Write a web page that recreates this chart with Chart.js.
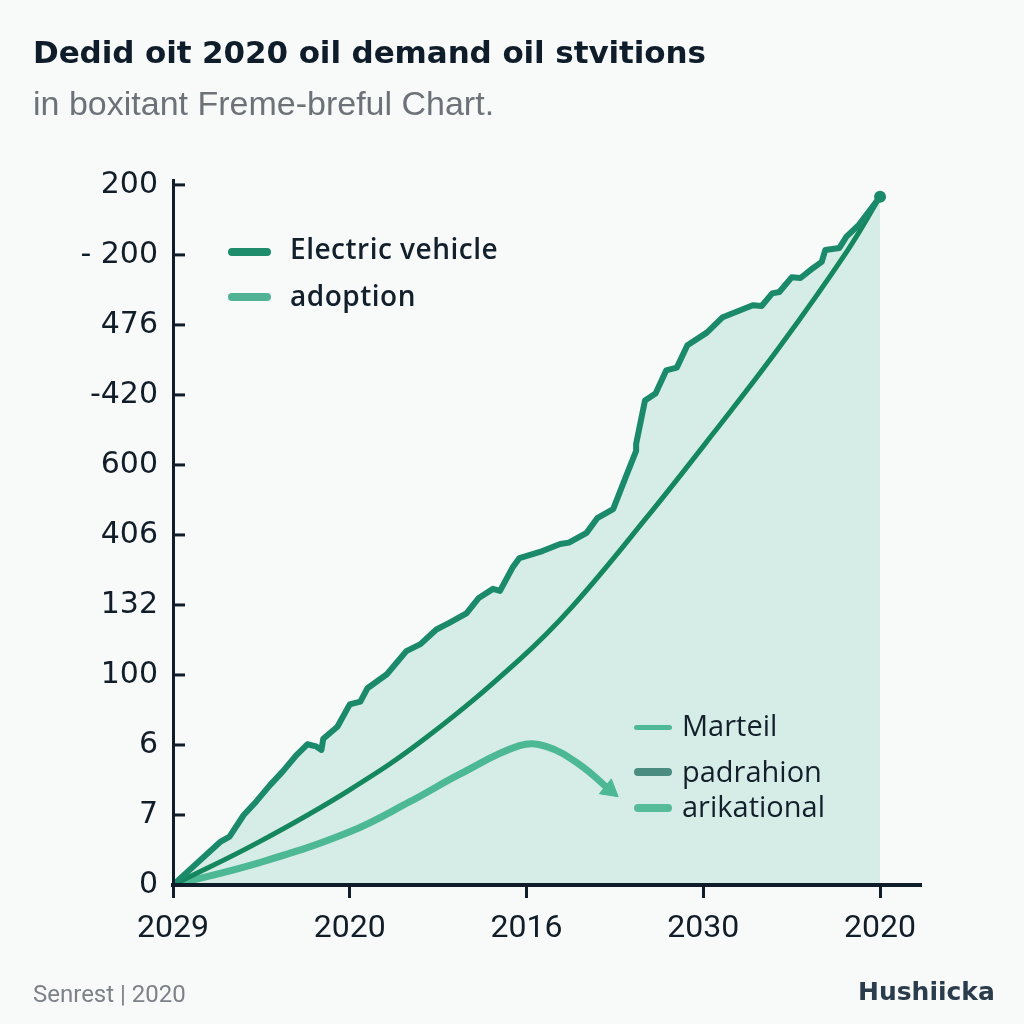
<!DOCTYPE html>
<html>
<head>
<meta charset="utf-8">
<script src="https://cdn.jsdelivr.net/npm/chart.js@4.4.1/dist/chart.umd.min.js"></script>
<style>
  html, body { margin: 0; padding: 0; background: #f8faf9; }
  #wrap { position: relative; width: 1024px; height: 1024px; overflow: hidden; background: #f8faf9; }
  #c { position: absolute; left: 0; top: 0; }
  .t { position: absolute; white-space: nowrap; }
  #title { left: 33px; top: 34px; font: 700 31px "DejaVu Sans", sans-serif; color: #0f1d2b; letter-spacing: -0.1px; }
  #sub { left: 33px; top: 84px; font: 400 34px "Liberation Sans", Arial, sans-serif; color: #6c7278; }
  #foot1 { left: 33px; top: 980px; font: 400 24px Roboto, sans-serif; color: #7d8288; }
  #foot2 { left: 858px; top: 977px; font: 700 25px "DejaVu Sans", sans-serif; color: #2b3d4d; }
  .lg { position: absolute; height: 8px; border-radius: 4px; }
  .lt { position: absolute; white-space: nowrap; color: #13202c; }
  .lt1 { font: 600 28px "Open Sans", sans-serif; letter-spacing: 0.5px; }
  .lt2 { font: 400 29px "Open Sans", sans-serif; }
</style>
</head>
<body>
<div id="wrap">
  <canvas id="c" width="1024" height="1024"></canvas>
  <div class="t" id="title">Dedid oit 2020 oil demand oil stvitions</div>
  <div class="t" id="sub">in boxitant Freme-breful Chart.</div>

  <div class="lg" style="left:228px;top:248px;width:43px;background:#1f8c6c"></div>
  <div class="lt lt1" style="left:290px;top:229px">Electric vehicle</div>
  <div class="lg" style="left:228px;top:293px;width:43px;background:#52b394"></div>
  <div class="lt lt1" style="left:290px;top:276px">adoption</div>

  <div class="lg" style="left:634px;top:725px;width:38px;height:5px;background:#4fb896"></div>
  <div class="lt lt2" style="left:682px;top:705px">Marteil</div>
  <div class="lg" style="left:634px;top:768px;width:38px;background:#4a8c80"></div>
  <div class="lt lt2" style="left:682px;top:751px">padrahion</div>
  <div class="lg" style="left:634px;top:804px;width:38px;background:#55bb99"></div>
  <div class="lt lt2" style="left:682px;top:786px">arikational</div>

  <div class="t" id="foot1">Senrest | 2020</div>
  <div class="t" id="foot2">Hushiicka</div>
</div>
<script>
// ---- data ----
const xLabels = ['2029', '2020', '2016', '2030', '2020'];
const yLabels = ['0', '7', '6', '100', '132', '406', '600', '-420', '476', '- 200', '200'];

const evX = [0.00, 0.27, 0.32, 0.40, 0.47, 0.55, 0.62, 0.70, 0.76, 0.81, 0.84, 0.85, 0.93, 1.00, 1.06, 1.10, 1.21, 1.32, 1.40, 1.49, 1.56, 1.66, 1.73, 1.81, 1.85, 1.92, 1.96, 2.09, 2.19, 2.24, 2.34, 2.40, 2.49, 2.56, 2.62, 2.62, 2.67, 2.73, 2.79, 2.85, 2.91, 3.02, 3.11, 3.28, 3.33, 3.39, 3.43, 3.50, 3.55, 3.62, 3.67, 3.69, 3.77, 3.81, 3.88, 4.00];
const evY = [0.00, 0.62, 0.69, 1.00, 1.19, 1.43, 1.62, 1.86, 2.01, 1.98, 1.93, 2.09, 2.26, 2.58, 2.62, 2.81, 3.01, 3.34, 3.44, 3.65, 3.74, 3.88, 4.10, 4.23, 4.20, 4.53, 4.67, 4.77, 4.87, 4.89, 5.03, 5.24, 5.37, 5.82, 6.20, 6.30, 6.92, 7.02, 7.35, 7.39, 7.71, 7.89, 8.11, 8.28, 8.27, 8.45, 8.47, 8.68, 8.67, 8.81, 8.90, 9.07, 9.10, 9.26, 9.43, 9.83];

const curveX = [0.00, 0.49, 1.00, 1.44, 1.96, 2.26, 2.68, 3.05, 3.43, 3.81, 4.00];
const curveY = [0.00, 0.62, 1.36, 2.12, 3.22, 3.98, 5.25, 6.43, 7.68, 9.04, 9.83];

const adoptX = [0.00, 0.49, 1.00, 1.34, 1.62, 1.96, 2.11, 2.30, 2.47];
const adoptY = [0.00, 0.32, 0.76, 1.19, 1.58, 1.99, 1.98, 1.72, 1.36];

const toPts = (xs, ys) => xs.map((x, i) => ({ x, y: ys[i] }));

const innerTicks = {
  id: 'innerTicks',
  afterDraw(chart) {
    const { ctx, chartArea } = chart;
    const ys = chart.scales.y;
    ctx.save();
    ctx.strokeStyle = '#0f1d2b';
    ctx.lineWidth = 3;
    ys.ticks.forEach(t => {
      const py = ys.getPixelForValue(t.value);
      ctx.beginPath();
      ctx.moveTo(chartArea.left, py);
      ctx.lineTo(chartArea.left + 12, py);
      ctx.stroke();
    });
    ctx.restore();
  }
};

const evLast = evX.length - 1;
const adLast = adoptX.length - 1;

new Chart(document.getElementById('c'), {
  type: 'line',
  data: {
    datasets: [
      {
        data: toPts(evX, evY),
        borderColor: '#1b8a6b',
        borderWidth: 6,
        tension: 0,
        borderJoinStyle: 'round',
        borderCapStyle: 'round',
        fill: 'origin',
        backgroundColor: '#d6ece6',
        pointRadius: c => c.dataIndex === evLast ? 6 : 0,
        pointBackgroundColor: '#1b8a6b',
        pointBorderWidth: 0
      },
      {
        data: toPts(curveX, curveY),
        borderColor: '#15875f',
        borderWidth: 5,
        tension: 0.4,
        fill: false,
        pointRadius: 0
      },
      {
        data: toPts(adoptX, adoptY),
        borderColor: '#4db894',
        borderWidth: 7,
        tension: 0.4,
        borderCapStyle: 'round',
        fill: false,
        pointStyle: 'triangle',
        pointRotation: 129,
        pointRadius: c => c.dataIndex === adLast ? 11 : 0,
        pointBackgroundColor: '#4db894',
        pointBorderColor: '#4db894',
        pointBorderWidth: 1
      }
    ]
  },
  options: {
    responsive: false,
    animation: false,
    devicePixelRatio: 1,
    events: [],
    layout: { padding: { left: 0, top: 180, right: 104, bottom: 59 } },
    plugins: {
      legend: { display: false },
      tooltip: { enabled: false },
      filler: { drawTime: 'beforeDatasetsDraw' }
    },
    scales: {
      x: {
        type: 'linear',
        min: 0,
        max: 4.226,
        afterFit: s => { s.height = 80; },
        ticks: {
          stepSize: 1,
          includeBounds: false,
          autoSkip: false,
          maxRotation: 0,
          padding: 12,
          color: '#111d28',
          font: { family: 'Roboto', size: 32 },
          callback: v => (Number.isInteger(v) && xLabels[v] !== undefined) ? xLabels[v] : ''
        },
        grid: { display: true, drawOnChartArea: false, drawTicks: true, tickLength: 13, color: '#0f1d2b', lineWidth: 3, z: 1 },
        border: { display: true, color: '#0f1d2b', width: 4, z: 1 }
      },
      y: {
        type: 'linear',
        min: 0,
        max: 10.07,
        afterFit: s => { s.width = 173; },
        ticks: {
          stepSize: 1,
          includeBounds: false,
          padding: 15,
          color: '#111d28',
          font: { family: 'DejaVu Sans', size: 30 },
          callback: v => (Number.isInteger(v) && yLabels[v] !== undefined) ? yLabels[v] : ''
        },
        grid: { display: false, drawTicks: false },
        border: { display: true, color: '#0f1d2b', width: 3, z: 1 }
      }
    }
  },
  plugins: [innerTicks]
});
</script>
</body>
</html>
